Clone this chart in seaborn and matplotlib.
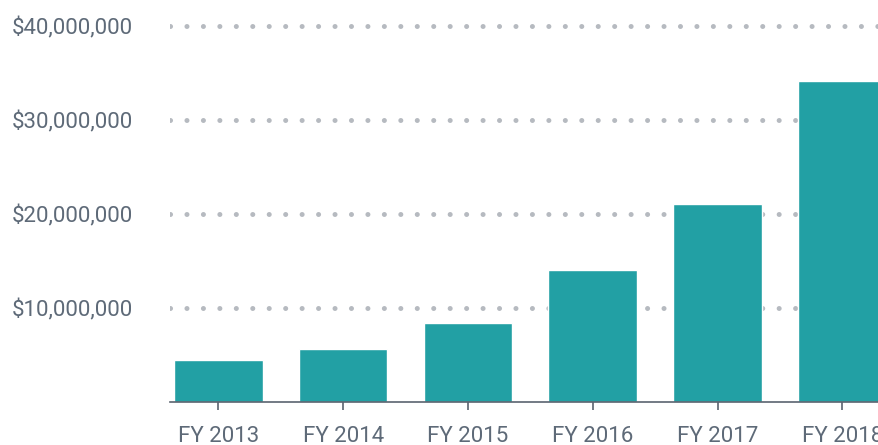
import matplotlib
matplotlib.use("Agg")
import matplotlib.pyplot as plt
import seaborn as sns
import pandas as pd
from matplotlib.ticker import FixedLocator, StrMethodFormatter

years = ["FY 2013", "FY 2014", "FY 2015", "FY 2016", "FY 2017", "FY 2018"]
funding = [4.44e6, 5.6e6, 8.37e6, 14.0e6, 21.0e6, 34.1e6]
ytick_values = [10e6, 20e6, 30e6, 40e6]

df = pd.DataFrame({"year": years, "funding": funding})

sns.set_style("white")
plt.rcParams["font.family"] = ["Roboto", "DejaVu Sans"]

text_color = "#5e6a78"
bar_color = "#22a0a4"
grid_color = "#b6bac0"
axis_color = "#5a6470"

fig = plt.figure(figsize=(8.79, 4.45), dpi=100)
ax = fig.add_axes([170 / 879, (445 - 401.7) / 445, 1 - 170 / 879, (401.7 - 6.9) / 445])

sns.barplot(data=df, x="year", y="funding", color=bar_color, saturation=1,
            width=0.71, ax=ax, zorder=3)

ax.set_xlim(-0.387, 5.294)
ax.set_ylim(0, 42e6)
ax.yaxis.set_major_locator(FixedLocator(ytick_values))
ax.yaxis.set_major_formatter(StrMethodFormatter("${x:,.0f}"))

ax.set_axisbelow(True)
ax.yaxis.grid(True, color=grid_color, linewidth=3.6,
              linestyle=(0, (0.01, 3.28)), dash_capstyle="round")
ax.xaxis.grid(False)

for s in ["top", "right", "left"]:
    ax.spines[s].set_visible(False)
ax.spines["bottom"].set_color(axis_color)
ax.spines["bottom"].set_linewidth(1.2)
ax.spines["bottom"].set_zorder(4)

ax.tick_params(axis="y", length=0, pad=26.6, labelsize=16, labelcolor=text_color)
ax.tick_params(axis="x", length=5.8, width=1.2, color=axis_color, pad=11.5,
               labelsize=16, labelcolor=text_color, direction="out")
ax.xaxis.set_ticks_position("bottom")

ax.set_xlabel("")
ax.set_ylabel("")

fig.savefig("out.png", dpi=100)
